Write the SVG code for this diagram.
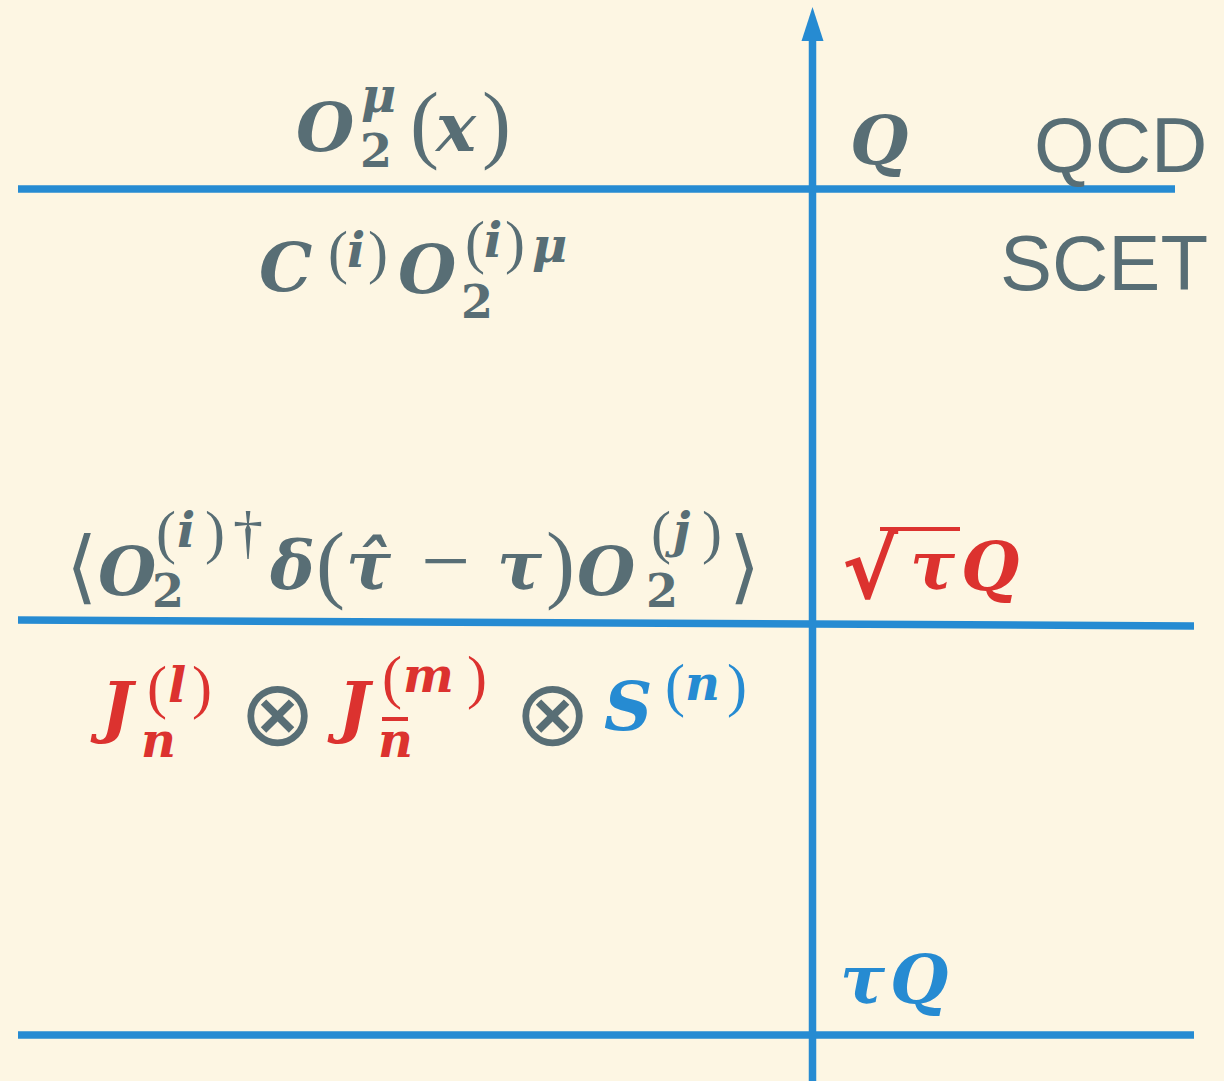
<svg xmlns="http://www.w3.org/2000/svg" width="1224" height="1081" viewBox="0 0 1224 1081">
<style>
.m{font-family:"DejaVu Serif",serif;font-style:italic;font-weight:bold;font-size:67px}
.s{font-family:"DejaVu Serif",serif;font-style:italic;font-weight:bold;font-size:48px}
.d{font-family:"DejaVu Serif",serif;font-style:normal;font-weight:bold;font-size:46px}
.p{font-family:"Liberation Serif",serif;font-style:normal;font-weight:normal;font-size:87px}
.ps{font-family:"Liberation Serif",serif;font-style:normal;font-weight:normal;font-size:60px}
.sym{font-family:"DejaVu Sans",sans-serif;font-style:normal;font-weight:normal;font-size:80px}
.ot{font-family:"DejaVu Sans",sans-serif;font-weight:normal;font-size:92px}
.lab{font-family:"Liberation Sans",Arial,sans-serif;font-size:78px;fill:#586e75}
.g{fill:#586e75}.r{fill:#dc322f}.b{fill:#268bd2}
.ax{stroke:#268bd2;stroke-width:7.5;fill:none}
</style>
<rect width="1224" height="1081" fill="#fdf6e3"/>
<g id="connectors">
<line class="ax" x1="18" y1="189" x2="1175" y2="189"/>
<line class="ax" x1="18" y1="620" x2="1194" y2="626"/>
<line class="ax" x1="18" y1="1035" x2="1194" y2="1035"/>
<line class="ax" x1="812.5" y1="1081" x2="812.5" y2="36"/>
<polygon points="812.5,7 801.5,41 823.5,41" fill="#268bd2"/>
</g>
<g id="qcd-operator">
<text class="g"><tspan class="m" x="296" y="151">O</tspan><tspan class="s" x="361" y="112">μ</tspan><tspan class="d" x="360" y="167">2</tspan><tspan class="p" x="410" y="152">(</tspan><tspan class="m" x="436" y="151">x</tspan><tspan class="p" x="482" y="152">)</tspan></text>
</g>
<g id="scet-operator">
<text class="g"><tspan class="m" x="259" y="291">C</tspan><tspan class="ps" x="328" y="272">(</tspan><tspan class="s" x="347" y="267">i</tspan><tspan class="ps" x="368" y="272">)</tspan><tspan class="m" x="398" y="293">O</tspan><tspan class="d" x="461" y="318">2</tspan><tspan class="ps" x="465" y="262">(</tspan><tspan class="s" x="484" y="257">i</tspan><tspan class="ps" x="505" y="262">)</tspan><tspan class="s" x="532" y="262">μ</tspan></text>
</g>
<g id="matrix-element">
<text class="g"><tspan class="sym" x="66" y="594">⟨</tspan><tspan class="m" x="98" y="595">O</tspan><tspan class="d" x="152" y="607">2</tspan><tspan class="ps" x="156" y="552">(</tspan><tspan class="s" x="177" y="547">i</tspan><tspan class="ps" x="205" y="552">)</tspan><tspan class="ps" x="233" y="552">†</tspan><tspan class="m" x="270" y="589">δ</tspan><tspan class="p" x="316" y="592">(</tspan><tspan class="m" x="346" y="589">τ̂</tspan><tspan class="p" x="421" y="590">−</tspan><tspan class="m" x="497" y="589">τ</tspan><tspan class="p" x="546" y="592">)</tspan><tspan class="m" x="577" y="595">O</tspan><tspan class="d" x="646" y="607">2</tspan><tspan class="ps" x="651" y="552">(</tspan><tspan class="s" x="673" y="547">j</tspan><tspan class="ps" x="702" y="552">)</tspan><tspan class="sym" x="729" y="594">⟩</tspan></text>
</g>
<g id="factorization">
<text><tspan class="m r" x="101" y="730">J</tspan><tspan class="s r" x="141" y="757">n</tspan><tspan class="ps r" x="147" y="707">(</tspan><tspan class="s r" x="168" y="702">l</tspan><tspan class="ps r" x="192" y="707">)</tspan><tspan class="ot g" x="239" y="745">⊗</tspan><tspan class="m r" x="338" y="730">J</tspan><tspan class="s r" x="378" y="757">n</tspan><tspan class="ps r" x="382" y="697">(</tspan><tspan class="s r" x="403" y="692">m</tspan><tspan class="ps r" x="467" y="697">)</tspan><tspan class="ot g" x="514" y="745">⊗</tspan><tspan class="m b" x="604" y="730">S</tspan><tspan class="ps b" x="665" y="705">(</tspan><tspan class="s b" x="685" y="700">n</tspan><tspan class="ps b" x="727" y="705">)</tspan></text>
<rect x="382" y="717" width="26" height="4" fill="#dc322f"/>
</g>
<g id="scale-Q"><text class="m g" x="850" y="164">Q</text></g>
<g id="label-QCD"><text class="lab" x="1034" y="172">QCD</text></g>
<g id="label-SCET"><text class="lab" x="1000" y="290">SCET</text></g>
<g id="scale-sqrt-tauQ">
<text class="r"><tspan x="842" y="598" style="font-family:'DejaVu Sans',sans-serif;font-weight:bold;font-size:84px">√</tspan><tspan class="m" x="910" y="589">τ</tspan><tspan class="m" x="961" y="590">Q</tspan></text>
<line x1="880" y1="529" x2="960" y2="529" stroke="#dc322f" stroke-width="4"/>
</g>
<g id="scale-tauQ">
<text class="b"><tspan class="m" x="840" y="1003">τ</tspan><tspan class="m" x="890" y="1003">Q</tspan></text>
</g>
</svg>
